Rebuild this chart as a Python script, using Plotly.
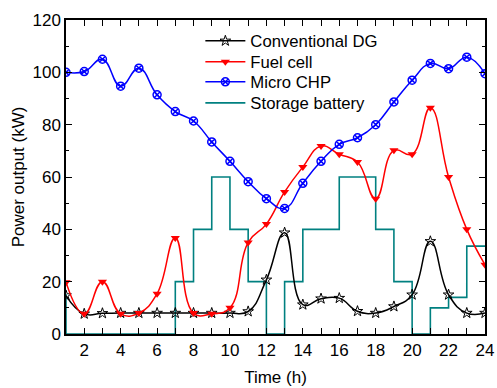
import plotly.graph_objects as go

hours = list(range(1, 25))
conventional_dg = [14.7, 7.7, 7.9, 8, 8, 8, 8, 8, 8, 8, 8.6, 20.7, 38.7, 11.2, 13.5, 13.7, 8.7, 8, 10.5, 15, 35.4, 15, 8, 8]
fuel_cell = [19.8, 7.7, 20, 7.7, 8, 15.4, 36.7, 8, 7.7, 10, 35, 42, 54.3, 63.8, 71.8, 68.7, 65.7, 51.7, 70.2, 68.7, 86.5, 60, 40, 26.5]
micro_chp = [100, 100.3, 105, 94.7, 101.6, 91.4, 85, 81.4, 73.4, 66, 58.2, 51.7, 48, 57.6, 66, 72.5, 75, 80, 88.7, 97, 103.4, 101.4, 105.8, 99.5]
battery_hours = list(range(0, 25))
storage_battery = [15, 0, 0, 0, 0, 0, 0, 20, 40, 60, 40, 20, 0, 20, 40, 40, 60, 60, 40, 20, 0, 10, 14, 33.6, 33.6]

FONT = "Liberation Sans, Arial, sans-serif"
SMOOTH = 1.3

fig = go.Figure()
fig.add_trace(go.Scatter(
    x=battery_hours, y=storage_battery, name="Storage battery", mode="lines",
    line=dict(color="#008080", width=1.6, shape="hv"), legend="legend4",
))
fig.add_trace(go.Scatter(
    x=hours, y=conventional_dg, name="Conventional DG", mode="lines+markers",
    line=dict(color="black", width=1.5, shape="spline", smoothing=SMOOTH),
    marker=dict(symbol="star-open", size=8, color="black", line=dict(width=1)),
    legend="legend",
))
fig.add_trace(go.Scatter(
    x=hours, y=fuel_cell, name="Fuel cell", mode="lines+markers",
    line=dict(color="#ff0000", width=1.5, shape="spline", smoothing=SMOOTH),
    marker=dict(symbol="triangle-down", size=8, color="#ff0000"),
    legend="legend2",
))
fig.add_trace(go.Scatter(
    x=hours, y=micro_chp, name="Micro CHP", mode="lines+markers",
    line=dict(color="#0000ff", width=1.5, shape="spline", smoothing=SMOOTH),
    marker=dict(symbol="circle-x-open", size=8, color="#0000ff", line=dict(width=1.5)),
    legend="legend3",
))

def leg(ypix):
    return dict(x=(201 - 66) / 421, y=1 - (ypix - 20) / 314,
                xanchor="left", yanchor="middle",
                bgcolor="rgba(0,0,0,0)", font=dict(size=16.7, family=FONT),
                itemwidth=40, borderwidth=0)

fig.update_layout(
    width=497, height=388,
    margin=dict(l=66, r=10, t=20, b=54),
    paper_bgcolor="white", plot_bgcolor="white",
    font=dict(family=FONT, size=16, color="black"),
    showlegend=True,
    legend=leg(41), legend2=leg(62), legend3=leg(82), legend4=leg(103),
)
fig.update_xaxes(
    range=[1, 24], tickmode="linear", tick0=2, dtick=2,
    ticks="inside", ticklen=6, tickwidth=1, tickcolor="black",
    minor=dict(dtick=1, tick0=1, ticks="inside", ticklen=6, tickcolor="black"),
    showline=True, linecolor="black", linewidth=1.5, mirror="allticks",
    showgrid=False, zeroline=False, automargin=False,
    title=dict(text="Time (h)", font=dict(size=17, family=FONT), standoff=12),
    tickfont=dict(size=17, family=FONT),
)
fig.update_yaxes(
    range=[0, 120], tickmode="linear", tick0=0, dtick=20,
    ticks="inside", ticklen=6, tickwidth=1, tickcolor="black",
    minor=dict(dtick=10, ticks="inside", ticklen=3, tickcolor="black"),
    showline=True, linecolor="black", linewidth=1.5, mirror="allticks",
    showgrid=False, zeroline=False, automargin=True,
    title=dict(text="Power output (kW)", font=dict(size=17, family=FONT), standoff=4),
    tickfont=dict(size=17, family=FONT),
)

fig.write_html("out.html")
